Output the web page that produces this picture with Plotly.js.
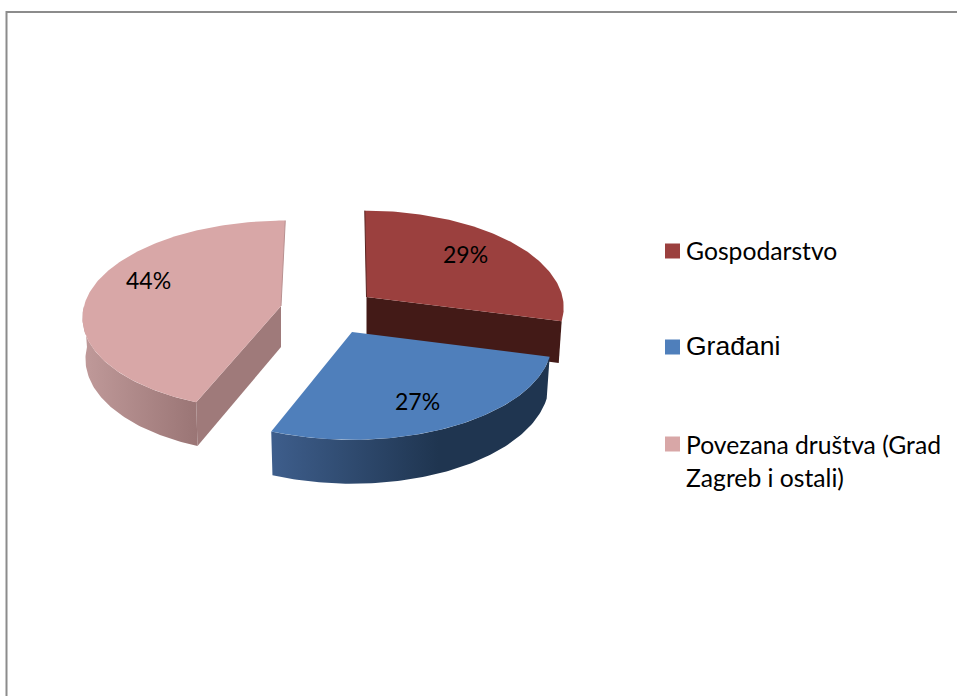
<!DOCTYPE html>
<html>
<head>
<meta charset="utf-8">
<script src="https://cdn.plot.ly/plotly-3.0.1.min.js"></script>
<style>html,body{margin:0;padding:0;background:#fff;overflow:hidden}#c{width:957px;height:696px}</style>
</head>
<body>
<div id="c"></div>
<script>
// Data
const categories = ["Gospodarstvo", "Građani", "Povezana društva (Grad Zagreb i ostali)"];
const values = [29, 27, 44];
const topColors = ["#9B403E", "#4F7FBB", "#D8A7A7"];
const cutColors = ["#431A17", "#1F3550", "#9F7A7A"];
const edgeColors = ["#5A2422", null, "#B89090"];

// Drawing geometry (axis units equal page pixels), one entry per slice
const apexes = [[366.5, 297], [352, 332], [281, 306]];
const radiiX = [196, 199, 197];
const radiiY = [95, 97, 94];
const skews = [-0.02, 0, 0.05];
const wallScales = [
  null,
  [[0, "#3E5E8C"], [0.6, "#1F3550"], [1, "#1F3550"]],
  [[0, "#C09A9A"], [1, "#9A7575"]]
];
const PERSP = 0.1, DEPTH = 41, BASE = 0.985;

function point(i, deg, bottom) {
  const a = apexes[i], t = deg * Math.PI / 180, d = Math.cos(t), s = 1 / (1 + PERSP * d);
  const k = bottom ? BASE : 1;
  const dy = -k * radiiY[i] * d * s;
  return [a[0] + k * radiiX[i] * Math.sin(t) * s - skews[i] * dy,
          a[1] + dy + (bottom ? DEPTH * s : 0)];
}
function arc(i, a0, a1, bottom) {
  const pts = [], n = Math.max(2, Math.ceil(Math.abs(a1 - a0)));
  for (let j = 0; j <= n; j++) pts.push(point(i, a0 + (a1 - a0) * j / n, bottom));
  return pts;
}
function poly(pts, color, scale) {
  const tr = {
    type: "scatter", mode: "lines", fill: "toself",
    x: pts.map(p => p[0]).concat(pts[0][0]),
    y: pts.map(p => p[1]).concat(pts[0][1]),
    line: {width: 0, color: color}, fillcolor: color,
    hoverinfo: "skip", showlegend: false
  };
  if (scale) tr.fillgradient = {type: "horizontal", colorscale: scale};
  return tr;
}

const total = values.reduce((a, b) => a + b, 0);
const starts = [], ends = [];
values.reduce((acc, v, i) => { starts[i] = acc; ends[i] = acc + v / total * 360; return ends[i]; }, 0);

const traces = [];
function slice(i) {
  const a = apexes[i], s = starts[i], e = ends[i];
  const apexLow = [a[0], a[1] + DEPTH];
  const cutAngle = i === 2 ? s : e;
  if (i !== 1) traces.push(poly([a, point(i, cutAngle, false), point(i, cutAngle, true), apexLow], cutColors[i]));
  if (wallScales[i]) {
    const f0 = Math.max(s, 90), f1 = Math.min(e, 270);
    traces.push(poly(arc(i, f0, f1, false).concat(arc(i, f1, f0, true)), cutColors[i], wallScales[i]));
  }
  traces.push(poly([a].concat(arc(i, s, e, false)), topColors[i]));
  if (edgeColors[i]) {
    const back = point(i, i === 2 ? e : s, false);
    traces.push({type: "scatter", mode: "lines", x: [a[0], back[0]], y: [a[1], back[1]],
      line: {width: 1, color: edgeColors[i]}, hoverinfo: "skip", showlegend: false});
  }
}
[2, 0, 1].forEach(slice);

// Legend swatches
traces.push({
  type: "scatter", mode: "markers",
  x: [672.5, 672.5, 672.5], y: [251, 347, 444],
  marker: {symbol: "square", size: 15, color: topColors, line: {width: 0}},
  hoverinfo: "skip", showlegend: false
});

const LABEL_FONT = "Lato, 'Open Sans', sans-serif";
const note = (x, y, text, xanchor, font) => ({
  x, y, text, xref: "x", yref: "y", showarrow: false, xanchor, yanchor: "middle", font
});
const labelPos = [[465, 254], [417, 401], [148, 280]];
const pct = {family: LABEL_FONT, size: 23, color: "#000"};
const body = {family: LABEL_FONT, size: 24.7, color: "#000"};
const annotations = values.map((v, i) => note(labelPos[i][0], labelPos[i][1], v + "%", "center", pct));
annotations.push(note(684, 250, categories[0], "left", body));
annotations.push(note(684, 346, categories[1], "left", {family: "'Liberation Sans', Arial, sans-serif", size: 26.5, color: "#000"}));
const parts = ["Povezana društva (Grad", "Zagreb i ostali)"];
annotations.push(note(684, 444, parts[0], "left", body));
annotations.push(note(684, 477, parts[1], "left", body));

const hidden = {visible: false, fixedrange: true, showgrid: false, zeroline: false};
const layout = {
  width: 957, height: 696, margin: {l: 0, r: 0, t: 0, b: 0},
  paper_bgcolor: "#fff", plot_bgcolor: "#fff", showlegend: false,
  xaxis: Object.assign({range: [0, 957]}, hidden),
  yaxis: Object.assign({range: [696, 0]}, hidden),
  annotations,
  shapes: [
    {type: "line", xref: "x", yref: "y", x0: 6.5, x1: 6.5, y0: 11, y1: 696, line: {color: "#8C8C8C", width: 2}},
    {type: "line", xref: "x", yref: "y", x0: 6, x1: 957, y0: 12, y1: 12, line: {color: "#8C8C8C", width: 2}}
  ]
};
Plotly.newPlot("c", traces, layout, {displayModeBar: false, staticPlot: true});
</script>
</body>
</html>
